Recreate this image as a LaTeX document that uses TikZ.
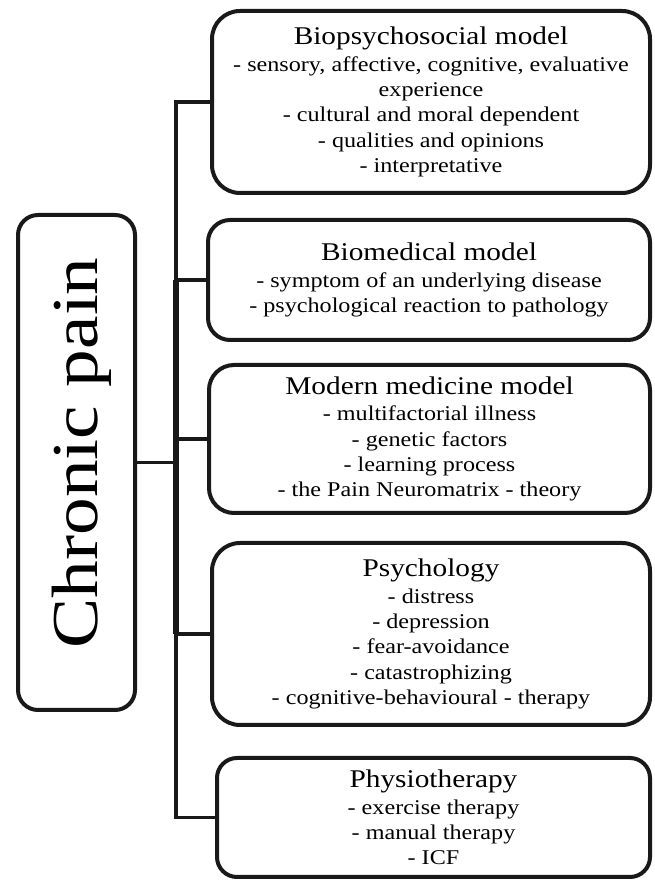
\documentclass[tikz,border=0pt]{standalone}
\usepackage{fontspec}
\setmainfont[FakeStretch=1.15]{Liberation Serif}
\begin{document}
\begin{tikzpicture}[x=1pt,y=1pt,
  box/.style={draw=black!90, line width=4pt, align=center, inner sep=0pt,
    font=\fontsize{21}{25.3}\selectfont},
  link/.style={draw=black!90, line width=3.5pt, line cap=rect}]
\useasboundingbox (0,0) rectangle (654,881);
\newcommand{\boxtitle}[1]{{\fontsize{25.5}{25}\selectfont #1}\\[1pt]}

% left node
\node[box, rounded corners=20pt, minimum width=117pt, minimum height=495pt] (cp) at (76.5,418.5) {};
\node[rotate=90, inner sep=0pt, font=\fontsize{65.5}{66}\selectfont] (cptext) at (82,428) {Chronic pain};

% right column
\node[box, rounded corners=28pt, minimum width=438pt, minimum height=182pt] (b1) at (431,779)
  {\boxtitle{Biopsychosocial model}
   - sensory, affective, cognitive, evaluative\\ experience\\
   - cultural and moral dependent\\ - qualities and opinions\\ - interpretative};
\node[box, rounded corners=22pt, minimum width=442pt, minimum height=120pt] (b2) at (429,601)
  {\boxtitle{Biomedical model}
   - symptom of an underlying disease\\ - psychological reaction to pathology};
\node[box, rounded corners=25pt, minimum width=441pt, minimum height=148pt] (b3) at (429.5,442)
  {\boxtitle{Modern medicine model}
   - multifactorial illness\\ - genetic factors\\ - learning process\\
   - the Pain Neuromatrix - theory};
\node[box, rounded corners=28pt, minimum width=438pt, minimum height=182pt] (b4) at (431,247)
  {\boxtitle{Psychology}
   - distress\\ - depression\\ - fear-avoidance\\ - catastrophizing\\
   - cognitive-behavioural - therapy};
\node[box, rounded corners=20pt, minimum width=433pt, minimum height=119pt] (b5) at (433.5,63.5)
  {\boxtitle{Physiotherapy}
   - exercise therapy\\ - manual therapy\\ - ICF};

% connectors
\coordinate (spine) at (176,0);
\draw[link] (b1.west) -- (b1.west -| spine) -- (b5.west -| spine) -- (b5.west);
\foreach \b in {b2,b3,b4} \draw[link] (\b.west) -- (\b.west -| spine);
\draw[link] (cp.east) -- (cp.east -| spine);
\draw[link, line width=6pt, line cap=butt] (b2.west -| spine) -- (b4.west -| spine);
\end{tikzpicture}
\end{document}
